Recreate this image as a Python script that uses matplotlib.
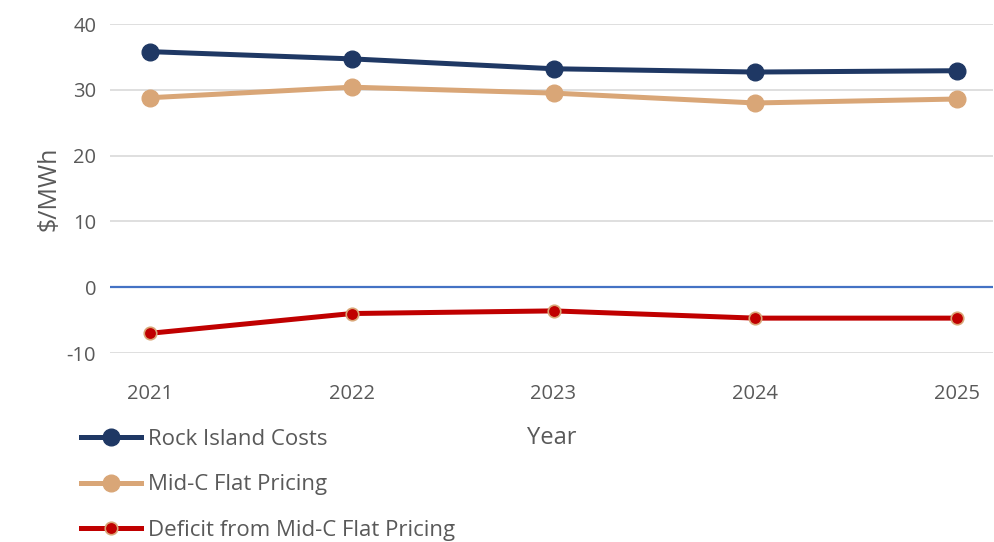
import matplotlib.pyplot as plt
from matplotlib.lines import Line2D

plt.rcParams['font.family'] = ['Open Sans', 'DejaVu Sans']
plt.rcParams['axes.unicode_minus'] = False

years = ['2021', '2022', '2023', '2024', '2025']
rock_island = [35.8, 34.7, 33.2, 32.7, 32.9]
mid_c = [28.8, 30.4, 29.5, 28.0, 28.6]
deficit = [-7.0, -4.0, -3.6, -4.7, -4.7]

navy = '#1F3864'
tan = '#D9A677'
red = '#C00000'
gray = '#595959'

fig = plt.figure(figsize=(9.94, 5.42), dpi=100)
ax = fig.add_axes([0.1107, 0.3487, 0.8883, 0.607])

x = list(range(len(years)))
ax.plot(x, rock_island, color=navy, lw=3.6, marker='o', ms=12, zorder=4)
ax.plot(x, mid_c, color=tan, lw=3.6, marker='o', ms=12, zorder=3)
ax.plot(x, deficit, color=red, lw=3.6, marker='o', ms=9,
        mfc=red, mec=tan, mew=1.2, zorder=3)

ax.axhline(0, color='#4472C4', lw=1.6, zorder=2)
ax.set_ylim(-10, 40)
ax.set_xlim(-0.2, 4.18)
ax.set_yticks([-10, 0, 10, 20, 30, 40])
ax.set_xticks(x)
ax.set_xticklabels(years)
ax.grid(axis='y', color='#D9D9D9', lw=1.2, zorder=0)
ax.set_axisbelow(True)
for s in ax.spines.values():
    s.set_visible(False)
ax.tick_params(axis='both', length=0, labelsize=14.5, labelcolor=gray)
ax.tick_params(axis='x', pad=22)
ax.tick_params(axis='y', pad=10)
ax.set_ylabel('$/MWh', fontsize=18, color=gray, labelpad=4)
ax.set_xlabel('Year', fontsize=17, color=gray, labelpad=16)

handles = [
    Line2D([], [], color=navy, lw=3.6, marker='o', ms=12),
    Line2D([], [], color=tan, lw=3.6, marker='o', ms=12),
    Line2D([], [], color=red, lw=3.6, marker='o', ms=9, mfc=red, mec=tan, mew=1.2),
]
labels = ['Rock Island Costs', 'Mid-C Flat Pricing', 'Deficit from Mid-C Flat Pricing']
fig.legend(handles, labels, loc='upper left', bbox_to_anchor=(0.073, 0.225),
           frameon=False, fontsize=16, labelcolor=gray, handlelength=2.7,
           handletextpad=0.3, labelspacing=1.1, borderaxespad=0)

fig.savefig('out.png', dpi=100)
